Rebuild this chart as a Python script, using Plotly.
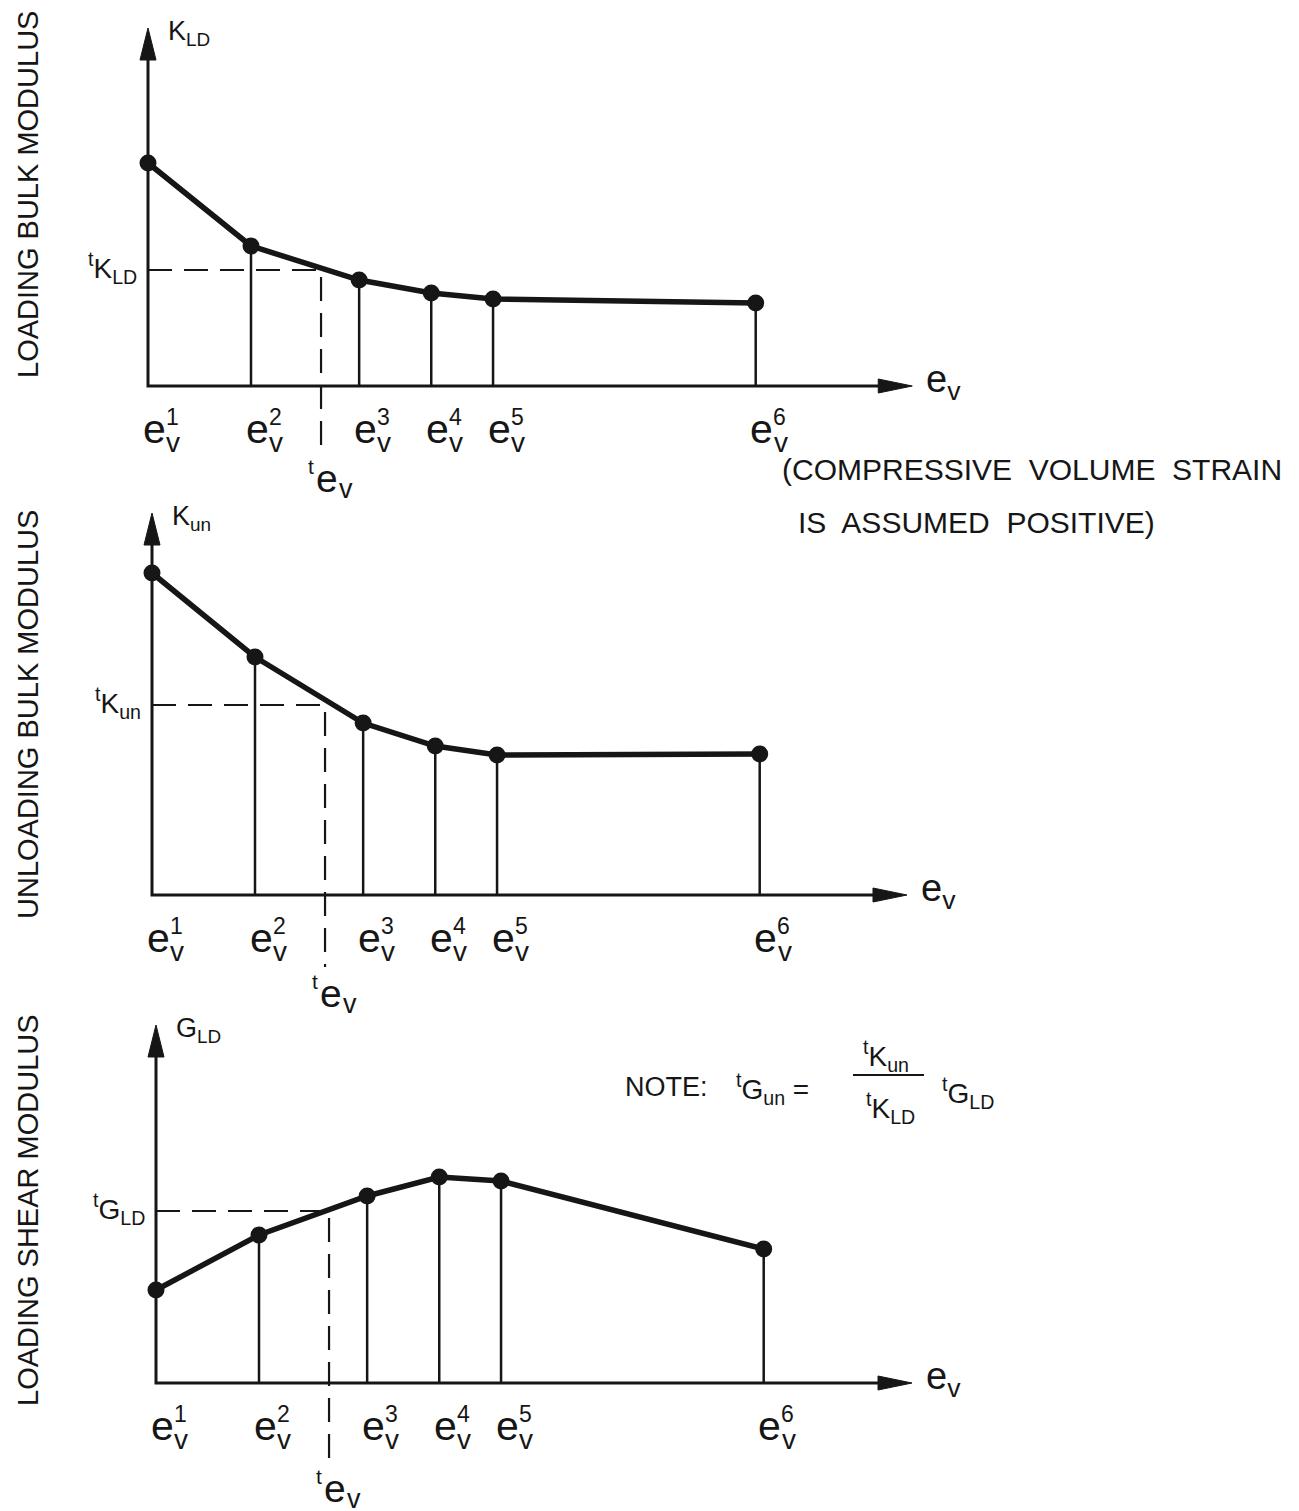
import plotly.graph_objects as go

W, H = 1299, 1511
OFF = 8                       # page body margin of the html page
INK = "#161616"
FONT = "Liberation Sans, Arial, sans-serif"

# ---------------- data ----------------
strain_idx = ["1", "2", "3", "4", "5", "6"]          # superscripts of e_v^i
ev = [0.0, 1.0, 2.05, 2.75, 3.35, 5.9]                 # volume strain break points
t_ev = 1.68                                            # current strain  t e_v

K_LD = [2.23, 1.40, 1.06, 0.93, 0.87, 0.83]            # loading bulk modulus
tK_LD = 1.16
K_un = [3.22, 2.38, 1.72, 1.49, 1.40, 1.41]            # unloading bulk modulus
tK_un = 1.90
G_LD = [0.93, 1.48, 1.87, 2.06, 2.02, 1.34]            # loading shear modulus
tG_LD = 1.72

panel_titles = ["LOADING BULK MODULUS", "UNLOADING BULK MODULUS", "LOADING SHEAR MODULUS"]
y_names = ["K<sub>LD</sub>", "K<sub>un</sub>", "G<sub>LD</sub>"]
t_names = ["<sup>t</sup>K<sub>LD</sub>", "<sup>t</sup>K<sub>un</sub>", "<sup>t</sup>G<sub>LD</sub>"]
series = [K_LD, K_un, G_LD]
t_vals = [tK_LD, tK_un, tG_LD]

# ---------------- layout geometry (pixels / units) ----------------
XS, YS = 103.0, 100.0          # px per unit on x and y
panels = [
    dict(ox=148, oy=386, top=0, bot=500, ytip=3.58, xtip=7.42, dbot=-0.66, title_y=1.91),
    dict(ox=152, oy=895, top=500, bot=1005, ytip=3.82, xtip=7.33, dbot=-0.72, title_y=1.80),
    dict(ox=156, oy=1383, top=1005, bot=1511, ytip=3.58, xtip=7.34, dbot=-0.79, title_y=1.73),
]

fig = go.Figure()
annotations = []
layout_axes = {}

for k, (p, vals, tv) in enumerate(zip(panels, series, t_vals)):
    sfx = "" if k == 0 else str(k + 1)
    xa, ya = "x" + sfx, "y" + sfx
    ox, oy = p["ox"] - OFF, p["oy"] - OFF
    top, bot = max(p["top"] - OFF, 0), p["bot"] - OFF
    if k == 2:
        bot = H
    layout_axes["xaxis" + sfx] = dict(
        domain=[0, 1], range=[-ox / XS, (W - ox) / XS], visible=False,
        anchor=ya, fixedrange=True)
    layout_axes["yaxis" + sfx] = dict(
        domain=[1 - bot / H, 1 - top / H],
        range=[-(bot - oy) / YS, (oy - top) / YS],
        visible=False, anchor=xa, fixedrange=True)

    # arrowhead dimensions in data units
    ah_len_x, ah_half_x = 34 / XS, 7 / YS
    ah_len_y, ah_half_y = 32 / YS, 8 / XS
    xb = p["xtip"] - ah_len_x
    yb = p["ytip"] - ah_len_y

    # axes
    fig.add_trace(go.Scatter(x=[xb, 0, 0], y=[0, 0, yb], mode="lines",
                             line=dict(color=INK, width=3), xaxis=xa, yaxis=ya,
                             hoverinfo="skip"))
    # arrowheads
    fig.add_trace(go.Scatter(x=[p["xtip"], xb, xb, p["xtip"]],
                             y=[0, ah_half_x, -ah_half_x, 0], mode="lines",
                             fill="toself", fillcolor=INK, line=dict(color=INK, width=1),
                             xaxis=xa, yaxis=ya, hoverinfo="skip"))
    fig.add_trace(go.Scatter(x=[0, ah_half_y, -ah_half_y, 0],
                             y=[p["ytip"], yb, yb, p["ytip"]], mode="lines",
                             fill="toself", fillcolor=INK, line=dict(color=INK, width=1),
                             xaxis=xa, yaxis=ya, hoverinfo="skip"))
    # drop lines
    dx, dy = [], []
    for e, v in zip(ev[1:], vals[1:]):
        dx += [e, e, None]
        dy += [0, v, None]
    fig.add_trace(go.Scatter(x=dx, y=dy, mode="lines", line=dict(color=INK, width=2.5),
                             xaxis=xa, yaxis=ya, hoverinfo="skip"))
    # dashed construction lines
    fig.add_trace(go.Scatter(x=[0, t_ev, t_ev], y=[tv, tv, p["dbot"]], mode="lines",
                             line=dict(color=INK, width=2.2, dash="24px,12px"),
                             xaxis=xa, yaxis=ya, hoverinfo="skip"))
    # modulus curve
    fig.add_trace(go.Scatter(x=ev, y=vals, mode="lines+markers",
                             line=dict(color=INK, width=5.5),
                             marker=dict(color=INK, size=17),
                             xaxis=xa, yaxis=ya, hoverinfo="skip"))

    # ---- text ----
    annotations.append(dict(xref="paper", yref=ya, x=(28 - OFF) / W, y=p["title_y"],
                            text=panel_titles[k], textangle=-90, showarrow=False,
                            font=dict(size=29, color=INK, family=FONT),
                            xanchor="center", yanchor="middle"))
    annotations.append(dict(xref=xa, yref=ya, x=0, y=p["ytip"], xshift=18, yshift=-5,
                            text=y_names[k], showarrow=False,
                            font=dict(size=27, color=INK, family=FONT),
                            xanchor="left", yanchor="middle"))
    annotations.append(dict(xref=xa, yref=ya, x=p["xtip"], y=0, xshift=12, yshift=4,
                            text="e<sub>v</sub>", showarrow=False,
                            font=dict(size=38, color=INK, family=FONT),
                            xanchor="left", yanchor="middle"))
    annotations.append(dict(xref=xa, yref=ya, x=0, y=tv, xshift=-9, yshift=2,
                            text=t_names[k], showarrow=False,
                            font=dict(size=28, color=INK, family=FONT),
                            xanchor="right", yanchor="middle"))
    for e, s in zip(ev, strain_idx):
        annotations.append(dict(xref=xa, yref=ya, x=e, y=0, xshift=6, yshift=-43,
                                text="e", showarrow=False,
                                font=dict(size=41, color=INK, family=FONT),
                                xanchor="center", yanchor="middle"))
        annotations.append(dict(xref=xa, yref=ya, x=e, y=0, xshift=25, yshift=-56,
                                text="v", showarrow=False,
                                font=dict(size=28, color=INK, family=FONT),
                                xanchor="center", yanchor="middle"))
        annotations.append(dict(xref=xa, yref=ya, x=e, y=0, xshift=24, yshift=-31,
                                text=s, showarrow=False,
                                font=dict(size=23, color=INK, family=FONT),
                                xanchor="center", yanchor="middle"))
    # t e_v label below dashed line
    annotations.append(dict(xref=xa, yref=ya, x=t_ev, y=p["dbot"], xshift=-10, yshift=-14,
                            text="t", showarrow=False,
                            font=dict(size=21, color=INK, family=FONT),
                            xanchor="center", yanchor="middle"))
    annotations.append(dict(xref=xa, yref=ya, x=t_ev, y=p["dbot"], xshift=6, yshift=-26,
                            text="e", showarrow=False,
                            font=dict(size=39, color=INK, family=FONT),
                            xanchor="center", yanchor="middle"))
    annotations.append(dict(xref=xa, yref=ya, x=t_ev, y=p["dbot"], xshift=25, yshift=-37,
                            text="v", showarrow=False,
                            font=dict(size=27, color=INK, family=FONT),
                            xanchor="center", yanchor="middle"))

# ---- notes in page coordinates ----
def pa(text, x, y, size, xanchor="left"):
    return dict(xref="paper", yref="paper", x=(x - OFF) / W, y=1 - (y - OFF) / H,
                text=text, showarrow=False,
                font=dict(size=size, color=INK, family=FONT),
                xanchor=xanchor, yanchor="middle")

annotations += [
    pa("(COMPRESSIVE\u00a0 VOLUME\u00a0 STRAIN", 780, 470, 30),
    pa("IS\u00a0 ASSUMED\u00a0 POSITIVE)", 796, 522, 30),
    pa("NOTE:", 623, 1087, 27),
    pa("<sup>t</sup>G<sub>un</sub>\u00a0=", 734, 1089, 28),
    pa("<sup>t</sup>K<sub>un</sub>", 886, 1056, 28, "center"),
    pa("<sup>t</sup>K<sub>LD</sub>", 890, 1108, 28, "center"),
    pa("<sup>t</sup>G<sub>LD</sub>", 940, 1093, 28),
]

fig.update_layout(
    width=W, height=H, margin=dict(l=0, r=0, t=0, b=0),
    paper_bgcolor="white", plot_bgcolor="rgba(0,0,0,0)",
    showlegend=False, annotations=annotations,
    shapes=[dict(type="line", xref="paper", yref="paper",
                 x0=(853 - OFF) / W, x1=(924 - OFF) / W,
                 y0=1 - (1075 - OFF) / H, y1=1 - (1075 - OFF) / H,
                 line=dict(color=INK, width=2))],
    **layout_axes,
)

fig.write_html("out.html")
